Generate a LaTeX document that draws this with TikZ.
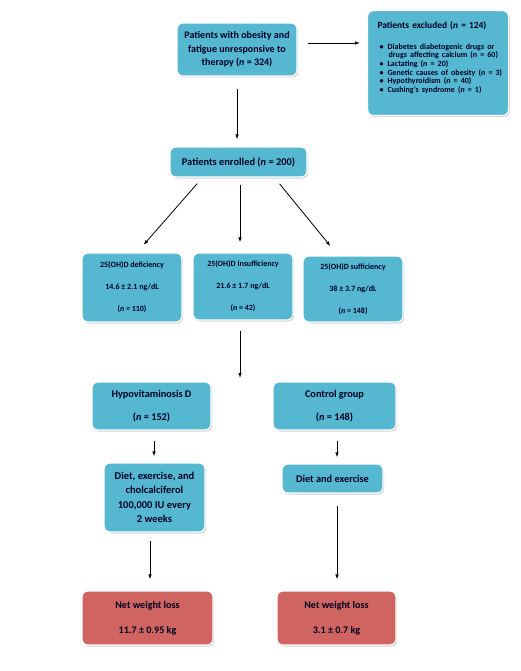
\documentclass[tikz,border=0pt]{standalone}
\usepackage{fontspec}
\setmainfont{Carlito}
\usetikzlibrary{arrows.meta,shadows}
\definecolor{boxblue}{HTML}{55B8D0}
\definecolor{boxred}{HTML}{D06460}
\tikzset{
  box/.style={draw=white,line width=1.2pt,rounded corners=6pt,fill=boxblue,
    drop shadow={opacity=0.35,shadow xshift=1.2pt,shadow yshift=-1.5pt},
    align=center,font=\bfseries\fontsize{10.3}{13.5}\selectfont,text=black!85!blue,inner sep=2pt},
  redbox/.style={box,fill=boxred},
  arr/.style={-{Latex[length=5pt,width=3.5pt]},line width=0.8pt}
}
\begin{document}
\begin{tikzpicture}[x=1pt,y=-1pt]
  \useasboundingbox (0,0) rectangle (520,671);
  % top
  \node[box,minimum width=120pt,minimum height=53pt,font=\bfseries\fontsize{10}{13.5}\selectfont] (start) at (237,49.5)
    {Patients with obesity and\\fatigue unresponsive to\\therapy (\textit{n} = 324)};
  \node[box,minimum width=141pt,minimum height=105pt,anchor=north west,align=left,text width=137pt,
    font=\bfseries\fontsize{9.4}{8.7}\selectfont] (excl) at (367,10)
    {\hspace*{8pt}Patients excluded (\textit{n} = 124)\\[12pt]
     {\fontsize{8}{8.7}\selectfont
     \hspace*{10pt}\textbullet\hspace{4pt}Diabetes diabetogenic drugs or\\
     \hspace*{19pt}drugs affecting calcium (\textit{n} = 60)\\
     \hspace*{10pt}\textbullet\hspace{4pt}Lactating (\textit{n} = 20)\\
     \hspace*{10pt}\textbullet\hspace{4pt}Genetic causes of obesity (\textit{n} = 3)\\
     \hspace*{10pt}\textbullet\hspace{4pt}Hypothyroidism (\textit{n} = 40)\\
     \hspace*{10pt}\textbullet\hspace{4pt}Cushing's syndrome (\textit{n} = 1)\rule[-12pt]{0pt}{12pt}}};
  \node[box,minimum width=137pt,minimum height=30pt,font=\bfseries\fontsize{10.4}{13.5}\selectfont] (enrolled) at (238.5,162)
    {Patients enrolled (\textit{n} = 200)};
  % 25(OH)D levels
  \node[box,minimum width=100pt,minimum height=69pt,font=\bfseries\fontsize{8}{22}\selectfont] (defic) at (132,287.5)
    {25(OH)D deficiency\\14.6 ± 2.1 ng/dL\\(\textit{n} = 110)};
  \node[box,minimum width=100pt,minimum height=67pt,font=\bfseries\fontsize{8}{22}\selectfont] (insuf) at (243,286.5)
    {25(OH)D insufficiency\\21.6 ± 1.7 ng/dL\\(\textit{n} = 42)};
  \node[box,minimum width=100pt,minimum height=66pt,font=\bfseries\fontsize{8}{22}\selectfont] (suff) at (353,289)
    {25(OH)D sufficiency\\38 ± 3.7 ng/dL\\(\textit{n} = 148)};
  \coordinate (split) at (240,378);
  % groups
  \node[box,minimum width=119pt,minimum height=48pt,font=\bfseries\fontsize{10.3}{23}\selectfont] (hypo) at (151.5,406)
    {Hypovitaminosis D\\(\textit{n} = 152)};
  \node[box,minimum width=123pt,minimum height=48pt,font=\bfseries\fontsize{10.3}{23}\selectfont] (control) at (334.5,406)
    {Control group\\(\textit{n} = 148)};
  \node[box,minimum width=101pt,minimum height=69pt,font=\bfseries\fontsize{10.5}{14.5}\selectfont] (treat) at (154.5,497.5)
    {Diet, exercise, and\\cholcalciferol\\100,000 IU every\\2 weeks};
  \node[box,minimum width=101pt,minimum height=29pt] (diet) at (332.5,478.5)
    {Diet and exercise};
  % outcomes
  \node[redbox,minimum width=131pt,minimum height=54pt,font=\bfseries\fontsize{10.1}{25}\selectfont] (loss1) at (147.5,618)
    {Net weight loss\\11.7 ± 0.95 kg};
  \node[redbox,minimum width=119pt,minimum height=54pt,font=\bfseries\fontsize{10.1}{25}\selectfont] (loss2) at (336.5,618)
    {Net weight loss\\3.1 ± 0.7 kg};
  % connectors
  \draw[arr,shorten <=10pt,shorten >=7pt] ([yshift=6.5pt]start.east) -- ([yshift=6.5pt]start.east -| excl.west);
  \draw[arr,shorten <=12pt,shorten >=7pt] (start.south) -- (start.south |- enrolled.north);
  \draw[arr,shorten <=8pt,shorten >=10pt] ([xshift=-36pt]enrolled.south) -- ([xshift=5pt]defic.north);
  \draw[arr,shorten <=7pt,shorten >=10pt] ([xshift=1.5pt]enrolled.south) -- ([xshift=1.5pt]enrolled.south |- insuf.north);
  \draw[arr,shorten <=8pt,shorten >=12pt] ([xshift=36pt]enrolled.south) -- ([xshift=-15pt]suff.north);
  \draw[arr,shorten <=10pt] ([xshift=-3pt]insuf.south) -- (split);
  \draw[arr,shorten <=10pt,shorten >=6pt] ([xshift=2.5pt]hypo.south) -- ([xshift=2.5pt]hypo.south |- treat.north);
  \draw[arr,shorten <=10pt,shorten >=6pt] ([xshift=2.5pt]control.south) -- ([xshift=2.5pt]control.south |- diet.north);
  \draw[arr,shorten <=8pt,shorten >=11pt] ([xshift=-4.5pt]treat.south) -- ([xshift=-4.5pt]treat.south |- loss1.north);
  \draw[arr,shorten <=12pt,shorten >=11pt] ([xshift=4.5pt]diet.south) -- ([xshift=4.5pt]diet.south |- loss2.north);
\end{tikzpicture}
\end{document}
